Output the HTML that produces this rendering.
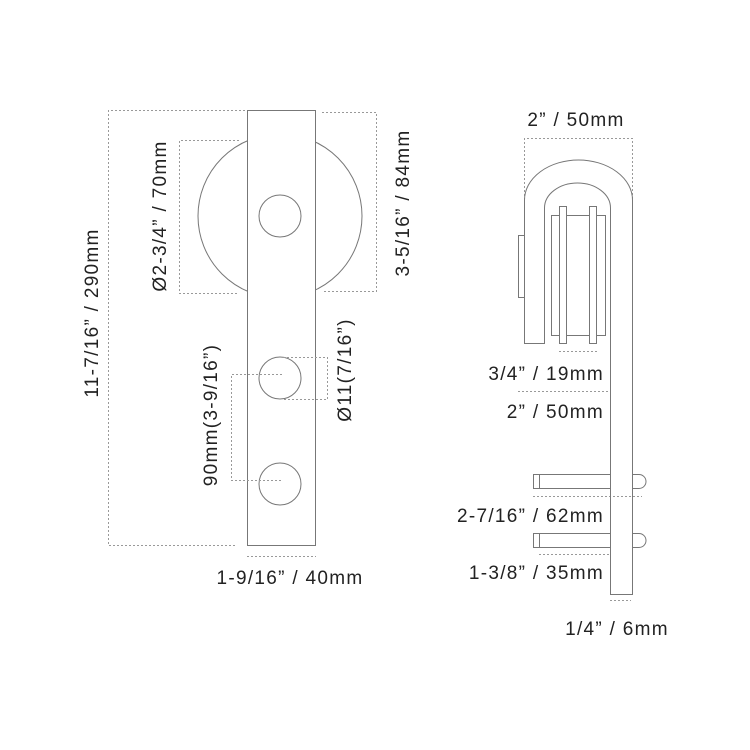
<!DOCTYPE html>
<html><head><meta charset="utf-8"><style>html,body{margin:0;padding:0;background:#fff}svg{display:block}</style></head><body>
<svg width="750" height="750" viewBox="0 0 750 750" xmlns="http://www.w3.org/2000/svg">
<g fill="none" stroke="#777" stroke-width="1">
<circle cx="280" cy="216" r="82"/>
<rect x="247.5" y="110.5" width="68" height="435" fill="#fff"/>
<circle cx="280" cy="216" r="21"/>
<circle cx="280" cy="378" r="21"/>
<circle cx="280" cy="484" r="21"/>
</g>
<g fill="none" stroke="#999" stroke-width="1" stroke-dasharray="2,2">
<polyline points="245,110.5 108.5,110.5 108.5,545.5 236,545.5"/>
<polyline points="239,140.5 179.5,140.5 179.5,293.5 239,293.5"/>
<polyline points="322,112.5 376.5,112.5 376.5,291.5 322,291.5"/>
<polyline points="283,357.5 327.5,357.5 327.5,399.5 283,399.5"/>
<polyline points="282,374.5 231.5,374.5 231.5,480.5 282,480.5"/>
<line x1="247" y1="556.5" x2="316" y2="556.5"/>
<polyline points="524.5,200 524.5,138.5 632.5,138.5 632.5,200"/>
<line x1="559" y1="351.5" x2="597" y2="351.5"/>
<line x1="518" y1="391.5" x2="610" y2="391.5"/>
<line x1="533" y1="496.5" x2="642" y2="496.5"/>
<line x1="539" y1="554.5" x2="610" y2="554.5"/>
<line x1="610" y1="600.5" x2="631" y2="600.5"/>
</g>
<g fill="none" stroke="#777" stroke-width="1">
<path d="M524.5,343.5 L524.5,200 A54,40 0 0 1 632.5,200 L632.5,594.5 L610.5,594.5 L610.5,208 A33,25 0 0 0 544.5,208 L544.5,343.5 Z"/>
<rect x="518.5" y="235.5" width="6" height="62"/>
<rect x="551.5" y="215.5" width="54" height="120"/>
<rect x="559.5" y="206.5" width="7" height="137" fill="#fff"/>
<rect x="589.5" y="206.5" width="7" height="137" fill="#fff"/>
<path d="M610.5,474.5 L533.5,474.5 L533.5,488.5 L610.5,488.5 M539.5,474.5 L539.5,488.5 M632.5,474.5 L639,474.5 A7,7 0 0 1 639,488.5 L632.5,488.5"/>
<path d="M610.5,533.5 L533.5,533.5 L533.5,547.5 L610.5,547.5 M539.5,533.5 L539.5,547.5 M632.5,533.5 L639,533.5 A7,7 0 0 1 639,547.5 L632.5,547.5"/>
</g>
<g font-family="Liberation Sans, sans-serif" font-size="19" letter-spacing="1.3" fill="#222">
<text transform="translate(98,313) rotate(-90)" text-anchor="middle">11-7/16” / 290mm</text>
<text transform="translate(166,216) rotate(-90)" text-anchor="middle">Ø2-3/4” / 70mm</text>
<text transform="translate(409,203) rotate(-90)" text-anchor="middle">3-5/16” / 84mm</text>
<text transform="translate(217,415) rotate(-90)" text-anchor="middle">90mm(3-9/16”)</text>
<text transform="translate(351,370) rotate(-90)" text-anchor="middle">Ø11(7/16”)</text>
<text x="290" y="584" text-anchor="middle">1-9/16” / 40mm</text>
<text x="576" y="126" text-anchor="middle">2” / 50mm</text>
<text x="604" y="380" text-anchor="end">3/4” / 19mm</text>
<text x="604" y="418" text-anchor="end">2” / 50mm</text>
<text x="604" y="522" text-anchor="end">2-7/16” / 62mm</text>
<text x="604" y="579" text-anchor="end">1-3/8” / 35mm</text>
<text x="617" y="635" text-anchor="middle">1/4” / 6mm</text>
</g>
</svg>
</body></html>
